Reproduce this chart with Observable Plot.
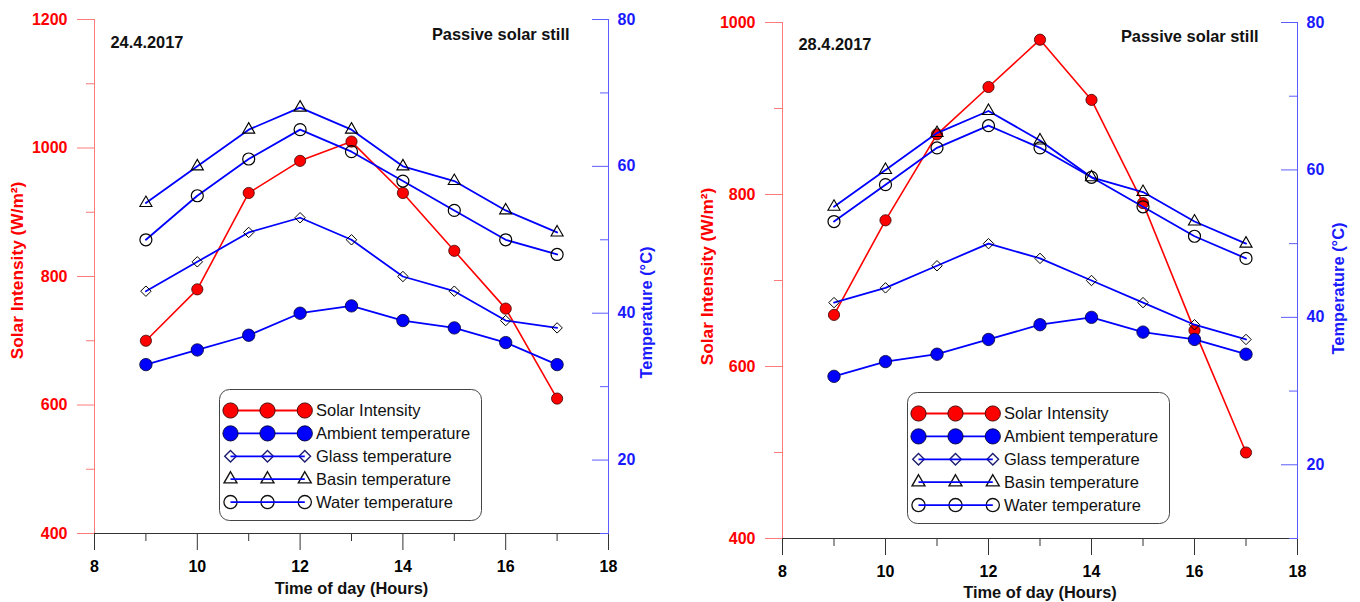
<!DOCTYPE html>
<html><head><meta charset="utf-8">
<script src="https://cdn.jsdelivr.net/npm/d3@7"></script>
<script src="https://cdn.jsdelivr.net/npm/@observablehq/plot@0.6"></script>
<style>
body{margin:0;background:#fff;font-family:Arial,"Liberation Sans",sans-serif;}
#wrap{position:relative;width:1360px;height:602px;overflow:hidden;background:#fff;}
.panel{position:absolute;top:0;width:680px;height:602px;}
.panel svg{position:absolute;left:0;top:0;}
#legend{position:absolute;left:0;top:0;}
</style></head><body><div id="wrap"></div>
<script>
// ---------- data ----------
const hours = [9, 10, 11, 12, 13, 14, 15, 16, 17];
const dates = ["24.4.2017", "28.4.2017"];
const subtitle = "Passive solar still";
const seriesNames = ["Solar Intensity", "Ambient temperature", "Glass temperature", "Basin temperature", "Water temperature"];
const xLabel = "Time of day (Hours)";
const yLeftLabel = "Solar Intensity (W/m²)";
const yRightLabel = "Temperature (°C)";

const solar1   = [700, 780, 930, 980, 1010, 930, 840, 750, 610];
const ambient1 = [33, 35, 37, 40, 41, 39, 38, 36, 33];
const glass1   = [43, 47, 51, 53, 50, 45, 43, 39, 38];
const basin1   = [55, 60, 65, 68, 65, 60, 58, 54, 51];
const water1   = [50, 56, 61, 65, 62, 58, 54, 50, 48];

const solar2   = [660, 770, 870, 925, 980, 910, 790, 642, 500];
const ambient2 = [32, 34, 35, 37, 39, 40, 38, 37, 35];
const glass2   = [42, 44, 47, 50, 48, 45, 42, 39, 37];
const basin2   = [55, 60, 65, 68, 64, 59, 57, 53, 50];
const water2   = [53, 58, 63, 66, 63, 59, 55, 51, 48];

const xTicks = [8, 10, 12, 14, 16, 18];
const xMinorTicks = [9, 11, 13, 15, 17];
const solarTicks1 = [400, 600, 800, 1000, 1200];
const solarMinor1 = [500, 700, 900, 1100];
const solarTicks2 = [400, 600, 800, 1000];
const solarMinor2 = [500, 700, 900];
const tempTicks = [20, 40, 60, 80];
const tempMinor = [10, 30, 50, 70];

// ---------- drawing ----------
const FONT = 'Arial, "Liberation Sans", sans-serif';
const RED = "#ff0000", RED_AX = "#ff7a7a", BLUE = "#0000ff", BLUE_AX = "#5c5cff", BLUE_TXT = "#1a1aff";
const rows = (vals) => hours.map((h, i) => ({hour: h, value: vals[i]}));
const plain = d => String(d);

function makePanel(cfg) {
  const div = document.createElement("div");
  div.className = "panel";
  div.style.left = cfg.left + "px";
  const base = {
    width: 680, height: 602,
    marginLeft: cfg.ml, marginRight: cfg.mr, marginTop: cfg.mt, marginBottom: cfg.mb,
    style: {fontFamily: FONT, background: "transparent", overflow: "visible"}
  };
  const bold = {fontWeight: "bold", fontSize: 16.4, fontFamily: FONT, lineAnchor: "middle"};

  const bottom = Plot.plot({
    ...base,
    x: {domain: [8, 18]},
    y: {domain: cfg.yDomain, label: null},
    marks: [
      Plot.axisX({ticks: xTicks, tickSize: 17, tickPadding: 10, tickFormat: plain, label: null, stroke: "#333", fill: "#000", fontWeight: "bold", fontSize: 16}),
      Plot.axisX({ticks: xMinorTicks, tickSize: 8, tickFormat: () => "", label: null, stroke: "#333"}),
      Plot.ruleY([cfg.yDomain[0]], {stroke: "#333"}),
      Plot.axisY({ticks: cfg.yTicks, tickSize: 17, tickPadding: 10, tickFormat: plain, label: null, stroke: RED_AX, fill: RED, fontWeight: "bold", fontSize: 16}),
      Plot.axisY({ticks: cfg.yMinor, tickSize: 8, tickFormat: () => "", label: null, stroke: RED_AX}),
      Plot.ruleX([8], {stroke: RED_AX}),
      Plot.line(rows(cfg.solar), {x: "hour", y: "value", stroke: RED, strokeWidth: 1.6}),
      Plot.dot(rows(cfg.solar), {x: "hour", y: "value", r: 5.6, fill: RED, stroke: "#3a0000", strokeWidth: 0.8}),
      Plot.text([cfg.date], {text: d => d, frameAnchor: "top-left", textAnchor: "start", dx: 16, dy: cfg.dateDy, ...bold, fill: "#111"}),
      Plot.text([subtitle], {text: d => d, frameAnchor: "top-right", textAnchor: "end", dx: -39, dy: cfg.subDy, ...bold, fill: "#111"}),
      Plot.text([yLeftLabel], {text: d => d, frameAnchor: "left", textAnchor: "middle", rotate: -90, dx: cfg.leftLabelDx, dy: cfg.leftLabelDy, ...bold, fontSize: 17.3, fill: RED}),
      Plot.text([xLabel], {text: d => d, frameAnchor: "bottom", textAnchor: "middle", dy: cfg.xLabelDy, ...bold, fill: "#111"})
    ]
  });

  const top = Plot.plot({
    ...base,
    x: {domain: [8, 18], axis: null},
    y: {domain: [10, 80], label: null},
    marks: [
      Plot.ruleX([18], {stroke: BLUE_AX}),
      Plot.axisY({anchor: "right", ticks: tempTicks, tickSize: 17, dx: -17, tickFormat: () => "", label: null, stroke: BLUE_AX}),
      Plot.axisY({anchor: "right", ticks: tempMinor, tickSize: 9, dx: -9, tickFormat: () => "", label: null, stroke: BLUE_AX}),
      Plot.axisY({anchor: "right", ticks: tempTicks, tickSize: 0, tickPadding: 9, tickFormat: plain, label: null, fill: BLUE_TXT, fontWeight: "bold", fontSize: 16}),
      Plot.text([yRightLabel], {text: d => d, frameAnchor: "right", textAnchor: "middle", rotate: -90, dx: cfg.rightLabelDx, dy: cfg.rightLabelDy, ...bold, fill: BLUE_TXT}),
      ...[cfg.ambient, cfg.glass, cfg.basin, cfg.water].map(v =>
        Plot.line(rows(v), {x: "hour", y: "value", stroke: BLUE, strokeWidth: 1.8})),
      Plot.dot(rows(cfg.ambient), {x: "hour", y: "value", r: 6.2, fill: BLUE, stroke: "#000030", strokeWidth: 0.8}),
      Plot.dot(rows(cfg.glass), {x: "hour", y: "value", symbol: "diamond2", r: 4.7, fill: "none", stroke: "#000", strokeWidth: 1}),
      Plot.dot(rows(cfg.basin), {x: "hour", y: "value", symbol: "triangle", r: 4.5, fill: "none", stroke: "#000", strokeWidth: 1.1}),
      Plot.dot(rows(cfg.water), {x: "hour", y: "value", r: 6, fill: "none", stroke: "#000", strokeWidth: 1.2})
    ]
  });
  div.appendChild(bottom);
  div.appendChild(top);
  document.getElementById("wrap").appendChild(div);
}

makePanel({
  left: 0, ml: 94, mr: 72, mt: 19, mb: 69,
  yDomain: [400, 1200], yTicks: solarTicks1, yMinor: solarMinor1,
  solar: solar1, ambient: ambient1, glass: glass1, basin: basin1, water: water1,
  date: dates[0], dateDy: 23, subDy: 15,
  leftLabelDx: -77, leftLabelDy: -6, rightLabelDx: 38, rightLabelDy: 36, xLabelDy: 55
});
makePanel({
  left: 680, ml: 102, mr: 63, mt: 22, mb: 64,
  yDomain: [400, 1000], yTicks: solarTicks2, yMinor: solarMinor2,
  solar: solar2, ambient: ambient2, glass: glass2, basin: basin2, water: water2,
  date: dates[1], dateDy: 22, subDy: 14.5,
  leftLabelDx: -75, leftLabelDy: -4, rightLabelDx: 41, rightLabelDy: 8, xLabelDy: 54
});

// ---------- legends ----------
const lsvg = d3.select("#wrap").append("svg").attr("id", "legend")
  .attr("width", 1360).attr("height", 602).style("font-family", FONT);
function legend(x0, y0) {
  const g = lsvg.append("g").attr("transform", `translate(${x0},${y0})`);
  g.append("rect").attr("x", 0.5).attr("y", 0.5).attr("width", 262).attr("height", 131).attr("rx", 10)
    .attr("fill", "white").attr("stroke", "#444").attr("stroke-width", 1);
  const styles = [
    {line: RED, sym: d3.symbolCircle, size: Math.PI * 7.6 * 7.6, fill: RED, stroke: "#3a0000", sw: 0.9},
    {line: BLUE, sym: d3.symbolCircle, size: Math.PI * 7.6 * 7.6, fill: BLUE, stroke: "#000030", sw: 0.9},
    {line: BLUE, sym: d3.symbolDiamond2, size: 85, fill: "none", stroke: "#1c1c70", sw: 1.4},
    {line: BLUE, sym: d3.symbolTriangle, size: 72, fill: "none", stroke: "#111", sw: 1.4},
    {line: BLUE, sym: d3.symbolCircle, size: Math.PI * 6.6 * 6.6, fill: "none", stroke: "#111", sw: 1.3}
  ];
  const xs = [11.5, 48.5, 85.8];
  seriesNames.forEach((name, i) => {
    const y = 21.5 + i * 22.9;
    const s = styles[i];
    if (s.fill !== "none") g.append("line").attr("x1", xs[0]).attr("x2", xs[2]).attr("y1", y).attr("y2", y).attr("stroke", s.line).attr("stroke-width", 1.8);
    xs.forEach(x => {
      g.append("path").attr("d", d3.symbol(s.sym, s.size)()).attr("transform", `translate(${x},${y})`)
        .attr("fill", s.fill).attr("stroke", s.stroke).attr("stroke-width", s.sw);
    });
    if (s.fill === "none") g.append("line").attr("x1", xs[0]).attr("x2", xs[2]).attr("y1", y).attr("y2", y).attr("stroke", s.line).attr("stroke-width", 1.8);
    g.append("text").attr("x", 97).attr("y", y).attr("dy", "0.35em").attr("font-size", 16.5).attr("fill", "#111").text(name);
  });
}
legend(219, 389);
legend(907, 392);
</script>
</body></html>
